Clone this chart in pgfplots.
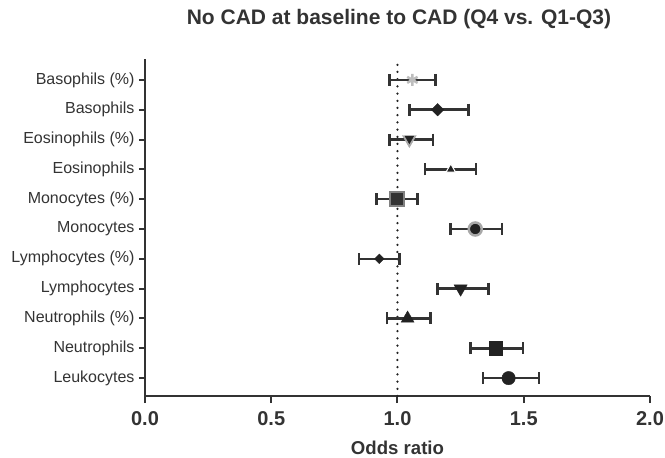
\documentclass[border=0pt]{standalone}
\usepackage{pgfplots}
\pgfplotsset{compat=1.18}
\usepackage{fontspec}
\setmainfont{Liberation Sans}
\definecolor{axc}{HTML}{333333}
\definecolor{mk}{HTML}{222222}
\definecolor{lg}{HTML}{BDBDBD}
\definecolor{mg}{HTML}{A8A8A8}
\begin{document}
\begin{tikzpicture}
\useasboundingbox (-145pt,-62pt) rectangle (520pt,396pt);
\begin{axis}[
  scale only axis, width=505pt, height=337pt,
  xmin=0, xmax=2, ymin=-0.6, ymax=10.7,
  axis x line*=bottom, axis y line*=left,
  axis line style={-, line width=2pt, color=axc},
  tick style={line width=2pt, color=axc},
  tick align=outside,
  xtick={0,0.5,1,1.5,2},
  xticklabels={0.0,0.5,1.0,1.5,2.0},
  x tick label style={font=\fontsize{20}{20}\selectfont\bfseries, text=axc, yshift=-5pt},
  major tick length=7pt,
  ytick={0,...,10},
  yticklabels={Leukocytes,Neutrophils,Neutrophils (\%),Lymphocytes,Lymphocytes (\%),Monocytes,Monocytes (\%),Eosinophils,Eosinophils (\%),Basophils,Basophils (\%)},
  y tick label style={font=\fontsize{16}{16}\selectfont, text=axc},
  y tick style={/pgfplots/major tick length=6pt},
  xlabel={Odds ratio},
  xlabel style={font=\fontsize{18.6}{18.6}\selectfont\bfseries, text=axc, at={(axis description cs:0.5,0)}, anchor=base, yshift=-58pt},
  title={No CAD at baseline to CAD (Q4 vs. Q1-Q3)},
  title style={font=\fontsize{21}{21}\selectfont\bfseries, text=axc, at={(axis description cs:0.5,1)}, anchor=base, yshift=28pt, xshift=1.5pt},
  clip=false,
  error bars/x dir=both, error bars/x explicit,
  error bars/error mark=|,
  error bars/error bar style={line width=2.5pt, color=axc},
  error bars/error mark options={mark size=6pt, line width=2.5pt, color=axc},
]
\addplot[mk, line width=2.5pt, dash pattern=on 0pt off 7.2pt, line cap=round] coordinates {(1,-0.6) (1,10.7)};
% Basophils (%)
\addplot[only marks, mark=asterisk, mark size=6pt, mark options={lg, line width=2.5pt}] coordinates {(1.059,10) += (0.091,0) -= (0.091,0)};
% Basophils
\addplot[only marks, mark=square*, mark size=4.4pt, mark options={mk, rotate=45}] coordinates {(1.159,9) += (0.122,0) -= (0.111,0)};
% Eosinophils (%)
\addplot[only marks, mark=triangle*, mark size=8pt, mark options={fill=mg, draw=mg, rotate=180}] coordinates {(1.047,8) += (0.094,0) -= (0.079,0)};
\addplot[only marks, mark=triangle*, mark size=5pt, mark options={mk, rotate=180}] coordinates {(1.047,8.03)};
% Eosinophils
\addplot[only marks, mark=triangle*, mark size=5.5pt, mark options={fill=mk, draw=white, line width=1pt}] coordinates {(1.211,7) += (0.100,0) -= (0.103,0)};
% Monocytes (%)
\addplot[only marks, mark=square*, mark size=7pt, mark options={fill=axc, draw=gray, line width=1.5pt, rounded corners=1.5pt}] coordinates {(0.998,6) += (0.082,0) -= (0.081,0)};
% Monocytes
\addplot[only marks, mark=*, mark size=6.5pt, mark options={fill=mk, draw=mg, line width=2.5pt}] coordinates {(1.308,5) += (0.105,0) -= (0.099,0)};
% Lymphocytes (%)
\addplot[only marks, mark=square*, mark size=3.4pt, mark options={mk, rotate=45}] coordinates {(0.928,4) += (0.079,0) -= (0.080,0)};
% Lymphocytes
\addplot[only marks, mark=triangle*, mark size=7.6pt, mark options={mk, rotate=180}] coordinates {(1.250,3) += (0.111,0) -= (0.091,0)};
% Neutrophils (%)
\addplot[only marks, mark=triangle*, mark size=7.5pt, mark options={mk}] coordinates {(1.040,2) += (0.090,0) -= (0.082,0)};
% Neutrophils
\addplot[only marks, mark=square*, mark size=6.8pt, mark options={mk}] coordinates {(1.389,1) += (0.109,0) -= (0.100,0)};
% Leukocytes
\addplot[only marks, mark=*, mark size=6.7pt, mark options={mk}] coordinates {(1.440,0) += (0.120,0) -= (0.101,0)};
\end{axis}
\end{tikzpicture}
\end{document}
